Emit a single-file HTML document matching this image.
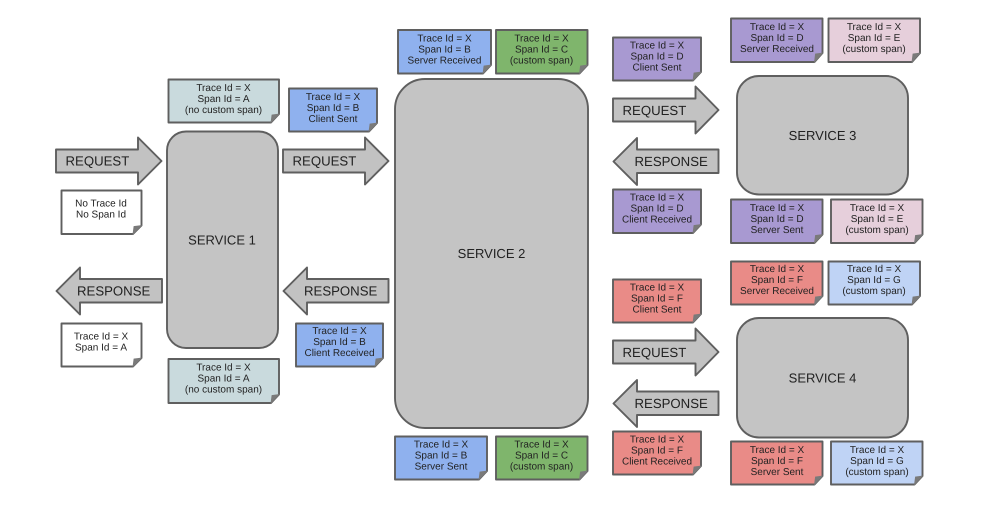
<!DOCTYPE html>
<html>
<head>
<meta charset="utf-8">
<style>
html,body{margin:0;padding:0;background:#fff;width:990px;height:512px;overflow:hidden}
svg{display:block;filter:blur(0.35px)}
text{font-family:"Liberation Sans",sans-serif;fill:#222;text-rendering:geometricPrecision}
.n text{font-size:10px;text-anchor:middle}
.l{font-size:13.2px}
.s{font-size:13px;text-anchor:middle}
.n polygon:first-child{stroke:#5f5f5f;stroke-width:1.9;stroke-linejoin:round}
.f{fill:#7a7a7a;stroke:#7a7a7a;stroke-width:.8}
.a{fill:#c2c2c2;stroke:#5f5f5f;stroke-width:1.9;stroke-linejoin:round}
.b{fill:#c4c4c4;stroke:#5f5f5f;stroke-width:1.9}
</style>
</head>
<body>
<svg width="990" height="512" viewBox="0 0 990 512" xmlns="http://www.w3.org/2000/svg">

<!-- Services -->
<rect class="b" x="167" y="131.5" width="111" height="216.5" rx="19" ry="19"/>
<rect class="b" x="395" y="79" width="193" height="349" rx="30" ry="30"/>
<rect class="b" x="737" y="76" width="171" height="118.500" rx="22" ry="22"/>
<rect class="b" x="737" y="318" width="171" height="119.500" rx="22" ry="22"/>
<text class="s" x="222" y="244.500">SERVICE 1</text>
<text class="s" x="491.500" y="258">SERVICE 2</text>
<text class="s" x="822.500" y="140">SERVICE 3</text>
<text class="s" x="822.500" y="382.500">SERVICE 4</text>

<!-- Arrows -->
<polygon class="a" points="56,149.500 138,149.500 138,137.500 161.500,161 138,184.500 138,172.500 56,172.500"/>
<text class="l" x="65.500" y="165.500">REQUEST</text>
<polygon class="a" points="283,149.500 365,149.500 365,137.500 388.500,161 365,184.500 365,172.500 283,172.500"/>
<text class="l" x="292.500" y="165.500">REQUEST</text>
<polygon class="a" points="162,279 80,279 80,267.500 56.500,291 80,314.500 80,302.500 162,302.500"/>
<text class="l" x="77" y="295.500">RESPONSE</text>
<polygon class="a" points="388.500,279 307,279 307,267.500 283.500,291 307,314.500 307,302.500 388.500,302.500"/>
<text class="l" x="304" y="295.500">RESPONSE</text>
<polygon class="a" points="613,98.500 695.500,98.500 695.500,86.500 718.500,110 695.500,133.500 695.500,121.500 613,121.500"/>
<text class="l" x="622.500" y="115">REQUEST</text>
<polygon class="a" points="718.500,149.500 637,149.500 637,138 613.500,161.500 637,185 637,173 718.500,173"/>
<text class="l" x="634.500" y="166">RESPONSE</text>
<polygon class="a" points="613,340.500 695.500,340.500 695.500,328.500 718.500,352 695.500,375.500 695.500,363.500 613,363.500"/>
<text class="l" x="622.500" y="357">REQUEST</text>
<polygon class="a" points="718.500,391.500 637,391.500 637,380 613.500,403.500 637,427 637,415 718.500,415"/>
<text class="l" x="634.500" y="408">RESPONSE</text>

<!-- Notes: service 1 -->
<g class="n"><polygon fill="#c9dadd" points="168.500,79.500 279,79.500 279,114 271,122.500 168.500,122.500"/><polygon class="f" points="279,114 271,122.500 272,115"/><text x="223.500" y="91">Trace Id = X</text><text x="223.500" y="102">Span Id = A</text><text x="223.500" y="113">(no custom span)</text></g>
<g class="n"><polygon fill="#8fb1ee" points="289,88.500 377,88.500 377,123 369,131.500 289,131.500"/><polygon class="f" points="377,123 369,131.500 370,124"/><text x="333" y="100">Trace Id = X</text><text x="333" y="111">Span Id = B</text><text x="333" y="122">Client Sent</text></g>
<g class="n"><polygon fill="#ffffff" points="61.500,190.500 141.500,190.500 141.500,225.500 133,234 61.500,234"/><polygon class="f" points="141.500,225.500 133,234 134,226.500"/><text x="101" y="206.500">No Trace Id</text><text x="101" y="217.500">No Span Id</text></g>
<g class="n"><polygon fill="#ffffff" points="61.500,323.500 141.500,323.500 141.500,358 133,366.500 61.500,366.500"/><polygon class="f" points="141.500,358 133,366.500 134,359"/><text x="101" y="339.500">Trace Id = X</text><text x="101" y="350.500">Span Id = A</text></g>
<g class="n"><polygon fill="#8fb1ee" points="296,323.500 383,323.500 383,358 375,366.500 296,366.500"/><polygon class="f" points="383,358 375,366.500 376,359"/><text x="339.500" y="334">Trace Id = X</text><text x="339.500" y="345">Span Id = B</text><text x="339.500" y="356">Client Received</text></g>
<g class="n"><polygon fill="#c9dadd" points="168.500,359 279,359 279,394.500 271,403 168.500,403"/><polygon class="f" points="279,394.500 271,403 272,395.500"/><text x="223.500" y="370.500">Trace Id = X</text><text x="223.500" y="381.500">Span Id = A</text><text x="223.500" y="392.500">(no custom span)</text></g>

<!-- Notes: service 2 -->
<g class="n"><polygon fill="#8fb1ee" points="398,30 491,30 491,65 483,73.500 398,73.500"/><polygon class="f" points="491,65 483,73.500 484,66"/><text x="444.500" y="41.500">Trace Id = X</text><text x="444.500" y="52.500">Span Id = B</text><text x="444.500" y="63.500">Server Received</text></g>
<g class="n"><polygon fill="#7fb56c" points="496,30 587.500,30 587.500,65 579.500,73.500 496,73.500"/><polygon class="f" points="587.500,65 579.500,73.500 580.500,66"/><text x="541.500" y="41.500">Trace Id = X</text><text x="541.500" y="52.500">Span Id = C</text><text x="541.500" y="63.500">(custom span)</text></g>
<g class="n"><polygon fill="#8fb1ee" points="395,436.500 487,436.500 487,471 479,479.500 395,479.500"/><polygon class="f" points="487,471 479,479.500 480,472"/><text x="441" y="447.500">Trace Id = X</text><text x="441" y="458.500">Span Id = B</text><text x="441" y="469.500">Server Sent</text></g>
<g class="n"><polygon fill="#7fb56c" points="496,436.500 587.500,436.500 587.500,471 579.500,479.500 496,479.500"/><polygon class="f" points="587.500,471 579.500,479.500 580.500,472"/><text x="541.500" y="447.500">Trace Id = X</text><text x="541.500" y="458.500">Span Id = C</text><text x="541.500" y="469.500">(custom span)</text></g>

<!-- Notes: service 3 -->
<g class="n"><polygon fill="#a899d1" points="613,37.500 701,37.500 701,72 693,80.500 613,80.500"/><polygon class="f" points="701,72 693,80.500 694,73"/><text x="657" y="48.500">Trace Id = X</text><text x="657" y="59.500">Span Id = D</text><text x="657" y="70.500">Client Sent</text></g>
<g class="n"><polygon fill="#a899d1" points="731,18.500 822.500,18.500 822.500,53 814.500,62 731,62"/><polygon class="f" points="822.500,53 814.500,62 815.500,54"/><text x="777" y="30">Trace Id = X</text><text x="777" y="41">Span Id = D</text><text x="777" y="52">Server Received</text></g>
<g class="n"><polygon fill="#e6cfdb" points="828.500,18.500 920,18.500 920,53 912,62 828.500,62"/><polygon class="f" points="920,53 912,62 913,54"/><text x="874" y="30">Trace Id = X</text><text x="874" y="41">Span Id = E</text><text x="874" y="52">(custom span)</text></g>
<g class="n"><polygon fill="#a899d1" points="613,189.500 701,189.500 701,224.500 693,233 613,233"/><polygon class="f" points="701,224.500 693,233 694,225.500"/><text x="657" y="200.500">Trace Id = X</text><text x="657" y="211.500">Span Id = D</text><text x="657" y="222.500">Client Received</text></g>
<g class="n"><polygon fill="#a899d1" points="731,199.500 822.500,199.500 822.500,234.500 814.500,243 731,243"/><polygon class="f" points="822.500,234.500 814.500,243 815.500,235.500"/><text x="777" y="211">Trace Id = X</text><text x="777" y="222">Span Id = D</text><text x="777" y="233">Server Sent</text></g>
<g class="n"><polygon fill="#e6cfdb" points="831,199.500 922.500,199.500 922.500,234.500 914.500,243 831,243"/><polygon class="f" points="922.500,234.500 914.500,243 915.500,235.500"/><text x="877" y="211">Trace Id = X</text><text x="877" y="222">Span Id = E</text><text x="877" y="233">(custom span)</text></g>

<!-- Notes: service 4 -->
<g class="n"><polygon fill="#e98b87" points="613,279.500 701,279.500 701,314 693,322.500 613,322.500"/><polygon class="f" points="701,314 693,322.500 694,315"/><text x="657" y="290.500">Trace Id = X</text><text x="657" y="301.500">Span Id = F</text><text x="657" y="312.500">Client Sent</text></g>
<g class="n"><polygon fill="#e98b87" points="731,261.500 822.500,261.500 822.500,296 814.500,304.500 731,304.500"/><polygon class="f" points="822.500,296 814.500,304.500 815.500,297"/><text x="777" y="272">Trace Id = X</text><text x="777" y="283">Span Id = F</text><text x="777" y="294">Server Received</text></g>
<g class="n"><polygon fill="#bfd3f5" points="828.500,261.500 920,261.500 920,296 912,304.500 828.500,304.500"/><polygon class="f" points="920,296 912,304.500 913,297"/><text x="874" y="272">Trace Id = X</text><text x="874" y="283">Span Id = G</text><text x="874" y="294">(custom span)</text></g>
<g class="n"><polygon fill="#e98b87" points="613,431.500 701,431.500 701,466 693,474.500 613,474.500"/><polygon class="f" points="701,466 693,474.500 694,467"/><text x="657" y="442.500">Trace Id = X</text><text x="657" y="453.500">Span Id = F</text><text x="657" y="464.500">Client Received</text></g>
<g class="n"><polygon fill="#e98b87" points="731,441.500 822.500,441.500 822.500,476 814.500,484.500 731,484.500"/><polygon class="f" points="822.500,476 814.500,484.500 815.500,477"/><text x="777" y="453">Trace Id = X</text><text x="777" y="464">Span Id = F</text><text x="777" y="475">Server Sent</text></g>
<g class="n"><polygon fill="#bfd3f5" points="831,441.500 922.500,441.500 922.500,476 914.500,484.500 831,484.500"/><polygon class="f" points="922.500,476 914.500,484.500 915.500,477"/><text x="877" y="453">Trace Id = X</text><text x="877" y="464">Span Id = G</text><text x="877" y="475">(custom span)</text></g>
</svg>
</body>
</html>
